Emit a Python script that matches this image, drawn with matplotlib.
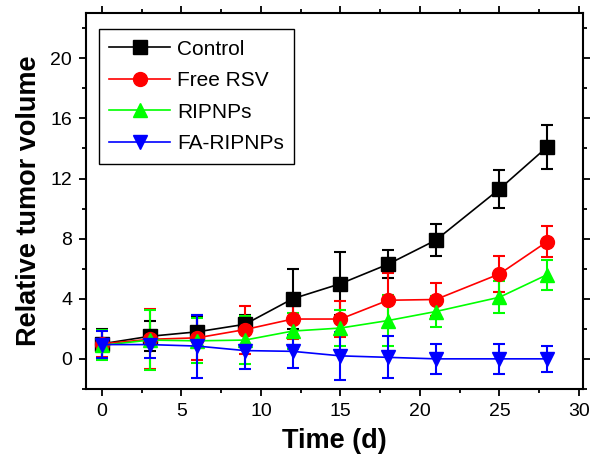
import matplotlib.pyplot as plt
from matplotlib.ticker import MultipleLocator

plt.rcParams['font.family'] = ['Liberation Sans', 'DejaVu Sans']

days = [0, 3, 6, 9, 12, 15, 18, 21, 25, 28]
control = [1.0, 1.5, 1.8, 2.3, 4.0, 5.0, 6.3, 7.9, 11.3, 14.1]
control_err = [1.0, 1.0, 1.0, 0.6, 2.0, 2.1, 0.95, 1.05, 1.25, 1.45]
free_rsv = [1.0, 1.3, 1.4, 1.95, 2.65, 2.65, 3.9, 3.95, 5.65, 7.8]
free_rsv_err = [0.9, 2.0, 1.5, 1.6, 1.3, 1.2, 1.8, 1.1, 1.2, 1.05]
ripnps = [0.9, 1.25, 1.2, 1.25, 1.85, 2.05, 2.55, 3.15, 4.1, 5.6]
ripnps_err = [1.0, 2.0, 1.5, 1.6, 1.2, 1.2, 1.7, 1.0, 1.05, 1.0]
fa_ripnps = [0.95, 0.95, 0.85, 0.55, 0.5, 0.2, 0.1, 0.0, 0.0, 0.0]
fa_ripnps_err = [0.9, 0.9, 2.1, 1.25, 1.1, 1.6, 1.4, 1.0, 1.0, 0.85]

series = [
    ('Control', control, control_err, 'black', 's'),
    ('Free RSV', free_rsv, free_rsv_err, 'red', 'o'),
    ('RIPNPs', ripnps, ripnps_err, '#00ff00', '^'),
    ('FA-RIPNPs', fa_ripnps, fa_ripnps_err, 'blue', 'v'),
]

fig = plt.figure(figsize=(5.93, 4.57), dpi=100)
ax = fig.add_axes([0.145, 0.149, 0.838, 0.822])

handles = []
for name, vals, errs, col, mk in series:
    c = ax.errorbar(days, vals, yerr=errs, color=col, marker=mk, markersize=10,
                    linewidth=1.2, elinewidth=1.5, capsize=4, capthick=1.5, label=name)
    handles.append(c.lines[0])

ax.set_xlim(-1, 30.25)
ax.set_ylim(-2, 23)
ax.xaxis.set_major_locator(MultipleLocator(5))
ax.xaxis.set_minor_locator(MultipleLocator(2.5))
ax.yaxis.set_major_locator(MultipleLocator(4))
ax.yaxis.set_minor_locator(MultipleLocator(2))
ax.tick_params(which='both', direction='out', top=True, right=True,
               labeltop=False, labelright=False, width=1.3)
ax.tick_params(which='major', length=5, labelsize=14, pad=5)
ax.tick_params(which='minor', length=3)
for sp in ax.spines.values():
    sp.set_linewidth(1.5)

ax.set_xlabel('Time (d)', fontsize=19.5, fontweight='bold', labelpad=6)
ax.set_ylabel('Relative tumor volume', fontsize=19.5, fontweight='bold', labelpad=6)

leg = ax.legend(handles=handles, labels=[s[0] for s in series], loc='upper left',
                fontsize=15, fancybox=False, edgecolor='black', framealpha=1,
                handlelength=2.9, handletextpad=0.35, borderpad=0.5,
                labelspacing=0.6, bbox_to_anchor=(0.005, 0.985))
leg.get_frame().set_linewidth(1.0)

plt.savefig('out.png', dpi=100)
